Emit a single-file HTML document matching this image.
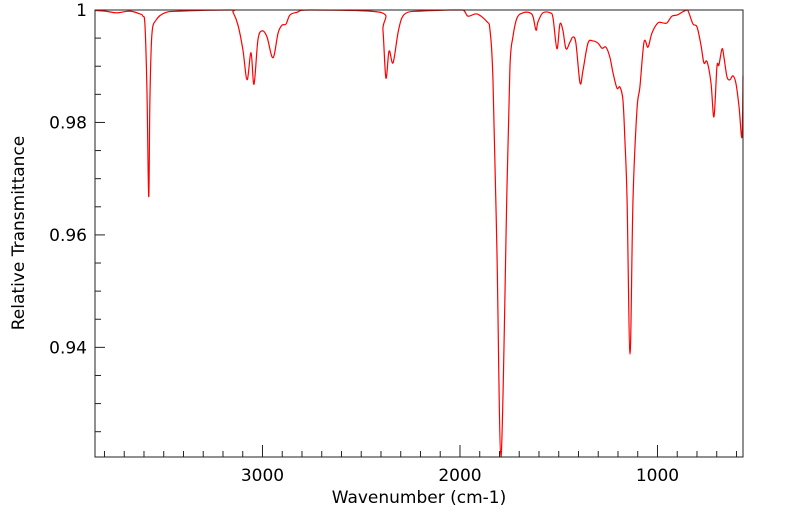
<!DOCTYPE html>
<html><head><meta charset="utf-8"><style>
html,body{margin:0;padding:0;background:#fff;}
svg{display:block;font-family:"DejaVu Sans","Liberation Sans",sans-serif;}
</style></head><body>
<svg id="chart" width="799" height="516" viewBox="0 0 799 516" xmlns="http://www.w3.org/2000/svg">
<g id="axes"></g>
<path id="series" fill="none" stroke="#ff0000" stroke-width="1.2"/>
<rect x="95" y="10" width="648" height="447" fill="none" stroke="#222" stroke-width="1"/>
<text x="419" y="503" text-anchor="middle" font-size="17">Wavenumber (cm-1)</text>
<text transform="translate(24,233) rotate(-90)" text-anchor="middle" font-size="17">Relative Transmittance</text>
</svg>
<script>
const wavenumbers=[3848,3797,3737,3671,3620,3605,3595,3585,3576,3570,3560,3539,3494,3418,3164,3149,3124,3099,3078,3058,3043,3023,3002,2977,2947,2921,2901,2881,2861,2825,2759,2405,2390,2375,2359,2339,2314,2294,2263,2203,2051,1985,1959,1914,1863,1848,1833,1813,1792,1762,1747,1732,1711,1681,1646,1630,1615,1605,1580,1544,1529,1509,1494,1479,1463,1443,1428,1413,1392,1377,1352,1327,1301,1281,1261,1241,1225,1205,1190,1175,1165,1154,1139,1124,1104,1089,1068,1048,1028,998,972,952,927,901,876,851,841,820,800,780,765,749,729,714,699,689,673,663,648,633,618,603,587,572,567];
const transmittance=[0.9999,0.9998,0.9995,0.9998,0.9993,0.9989,0.9973,0.9858,0.9668,0.9840,0.9956,0.9982,0.9995,0.9998,1.0000,0.9996,0.9973,0.9929,0.9876,0.9924,0.9868,0.9947,0.9963,0.9952,0.9915,0.9959,0.9973,0.9975,0.9991,0.9996,1.0000,0.9996,0.9964,0.9879,0.9927,0.9906,0.9959,0.9986,0.9996,0.9998,1.0000,1.0000,0.9989,0.9993,0.9979,0.9964,0.9876,0.9573,0.9205,0.9685,0.9899,0.9952,0.9986,0.9995,0.9995,0.9988,0.9964,0.9979,0.9995,0.9995,0.9986,0.9931,0.9975,0.9964,0.9931,0.9943,0.9952,0.9941,0.9870,0.9893,0.9941,0.9945,0.9941,0.9932,0.9934,0.9916,0.9888,0.9861,0.9863,0.9840,0.9769,0.9662,0.9388,0.9662,0.9822,0.9863,0.9943,0.9934,0.9959,0.9977,0.9977,0.9977,0.9989,0.9991,0.9996,1.0000,0.9995,0.9975,0.9970,0.9938,0.9906,0.9908,0.9870,0.9810,0.9899,0.9902,0.9931,0.9915,0.9881,0.9876,0.9883,0.9870,0.9828,0.9774,0.9883];
const xTickLabels=[3000,2000,1000];
const yTickLabels=[1,0.98,0.96,0.94];
const NS="http://www.w3.org/2000/svg";
const X0=95,X1=743,Y0=10,Y1=457,W0=3848,W1=567,T0=1.0,T1=0.9205;
function xs(w){return X0+(W0-w)/(W0-W1)*(X1-X0);}
function ys(t){return Y0+(T0-t)/(T0-T1)*(Y1-Y0);}
const axes=document.getElementById('axes');
function line(x1,y1,x2,y2,name){const l=document.createElementNS(NS,'line');l.setAttribute('x1',x1);l.setAttribute('y1',y1);l.setAttribute('x2',x2);l.setAttribute('y2',y2);l.setAttribute('stroke','#222');l.setAttribute('stroke-width','1');


axes.appendChild(l);}
function txt(x,y,s,anchor,name){const t=document.createElementNS(NS,'text');t.setAttribute('x',x);t.setAttribute('y',y);t.setAttribute('text-anchor',anchor);t.setAttribute('font-size','17');t.textContent=s;


axes.appendChild(t);}
for(let w=3800;w>=600;w-=100){const x=xs(w);const major=w%1000===0;line(x,Y1,x,Y1-(major?12:6),major?'x-major-tick':'x-minor-tick');}
xTickLabels.forEach(w=>txt(xs(w),Y1+24,String(w),'middle','x-tick-label'));
for(let i=0;i<=15;i++){const t=1-i*0.005;const y=ys(t);const major=i%4===0;line(X0,y,X0+(major?10:6),y,major?'y-major-tick':'y-minor-tick');}
yTickLabels.forEach(t=>txt(X0-8,ys(t)+6,String(t),'end','y-tick-label'));
const pts=wavenumbers.map((w,i)=>[xs(w),ys(transmittance[i])]);
let d='M'+pts[0][0].toFixed(2)+','+pts[0][1].toFixed(2);
for(let i=0;i<pts.length-1;i++){const p0=pts[Math.max(0,i-1)],p1=pts[i],p2=pts[i+1],p3=pts[Math.min(pts.length-1,i+2)];
let c1x=p1[0]+(p2[0]-p0[0])/6,c1y=p1[1]+(p2[1]-p0[1])/6,c2x=p2[0]-(p3[0]-p1[0])/6,c2y=p2[1]-(p3[1]-p1[1])/6;
c1y=Math.max(Y0,Math.min(Y1,c1y));c2y=Math.max(Y0,Math.min(Y1,c2y));
d+=' C'+c1x.toFixed(2)+','+c1y.toFixed(2)+' '+c2x.toFixed(2)+','+c2y.toFixed(2)+' '+p2[0].toFixed(2)+','+p2[1].toFixed(2);}
document.getElementById('series').setAttribute('d',d);
</script>
</body></html>
